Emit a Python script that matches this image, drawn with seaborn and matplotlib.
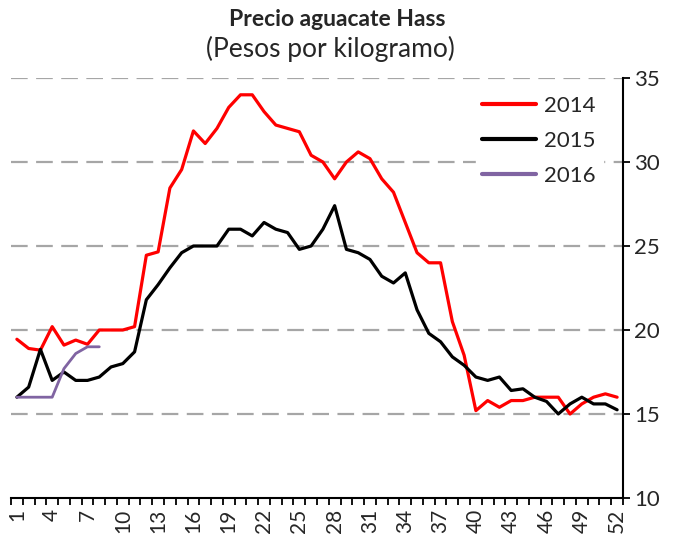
import matplotlib
matplotlib.use("Agg")
import matplotlib.pyplot as plt
import seaborn as sns
import pandas as pd
import numpy as np
from matplotlib.ticker import FixedLocator

weeks = list(range(1, 53))

precio_2014 = [19.45, 18.9, 18.8, 20.2, 19.1, 19.4, 19.15, 20.0, 20.0, 20.0,
               20.2, 24.45, 24.65, 28.45, 29.55, 31.85, 31.1, 32.0, 33.25, 34.0,
               34.0, 33.0, 32.2, 32.0, 31.8, 30.4, 30.0, 29.0, 30.0, 30.6,
               30.2, 29.0, 28.2, 26.4, 24.6, 24.0, 24.0, 20.5, 18.5, 15.2,
               15.8, 15.4, 15.8, 15.8, 16.0, 16.0, 16.0, 15.0, 15.6, 16.0,
               16.2, 16.0]
precio_2015 = [16.0, 16.6, 18.85, 17.0, 17.5, 17.0, 17.0, 17.2, 17.8, 18.0,
               18.7, 21.8, 22.7, 23.7, 24.6, 25.0, 25.0, 25.0, 26.0, 26.0,
               25.6, 26.4, 26.0, 25.8, 24.8, 25.0, 26.0, 27.4, 24.8, 24.6,
               24.2, 23.2, 22.8, 23.4, 21.2, 19.8, 19.3, 18.4, 17.9, 17.2,
               17.0, 17.2, 16.4, 16.5, 16.0, 15.75, 15.0, 15.6, 16.0, 15.6,
               15.6, 15.25]
precio_2016 = [16.0, 16.0, 16.0, 16.0, 17.7, 18.6, 19.0, 19.0]

series_labels = ["2014", "2015", "2016"]
series_colors = ["#FF0000", "#000000", "#8064A2"]
y_ticks = [10, 15, 20, 25, 30, 35]
x_tick_labels = list(range(1, 53, 3))

frames = []
for label, values in zip(series_labels, [precio_2014, precio_2015, precio_2016]):
    frames.append(pd.DataFrame({"semana": weeks[:len(values)],
                                "precio": values,
                                "anio": label}))
data = pd.concat(frames, ignore_index=True)

sns.set_theme(style="white")
plt.rcParams["font.family"] = ["Lato", "DejaVu Sans"]

W, H = 675, 542
fig = plt.figure(figsize=(W / 100, H / 100), dpi=100)
ax = fig.add_axes([11 / W, 1 - 498 / H, (623 - 11) / W, (498 - 78) / H])

sns.lineplot(data=data, x="semana", y="precio", hue="anio",
             palette=dict(zip(series_labels, series_colors)),
             linewidth=2.3, ax=ax, legend=True)
# the 2016 line is a little thinner
ax.lines[2].set_linewidth(2.0)

ax.set_xlim(0.5, 52.5)
ax.set_ylim(10, 35)

# dashed horizontal gridlines
for v in y_ticks[1:]:
    ax.axhline(v, color="#A6A6A6", linewidth=1.6, dashes=(7.5, 3.8), zorder=0)

ax.yaxis.tick_right()
ax.set_yticks(y_ticks)
ax.tick_params(axis="y", which="major", direction="out", length=5, width=1.3,
               color="black", labelsize=16, pad=3, right=True, left=False)

ax.xaxis.set_major_locator(FixedLocator(x_tick_labels))
ax.set_xticklabels([str(v) for v in x_tick_labels], rotation=90)
ax.xaxis.set_minor_locator(FixedLocator(np.arange(0.5, 53, 1.0)))
ax.tick_params(axis="x", which="major", length=0, labelsize=15, pad=8)
ax.tick_params(axis="x", which="minor", direction="out", length=5, width=1.3,
               color="black", bottom=True)

for side in ["left", "top"]:
    ax.spines[side].set_visible(False)
for side in ["right", "bottom"]:
    ax.spines[side].set_color("black")
    ax.spines[side].set_linewidth(1.5)

ax.set_xlabel("")
ax.set_ylabel("")

leg = ax.legend(loc="upper right", bbox_to_anchor=(0.985, 1.0), frameon=True,
                fontsize=16, handlelength=2.4, handletextpad=0.4,
                labelspacing=0.68, borderpad=0.3)
leg.get_frame().set_edgecolor("white")
leg.get_frame().set_facecolor("white")
leg.get_frame().set_alpha(1.0)
for h in leg.get_lines():
    h.set_linewidth(3)

fig.text(337 / W, 1 - 19 / H, "Precio aguacate Hass", ha="center", va="center",
         fontsize=16.5, fontweight="bold")
fig.text(330 / W, 1 - 49 / H, "(Pesos por kilogramo)", ha="center", va="center",
         fontsize=19)

fig.savefig("out.png", dpi=100, facecolor="white")
